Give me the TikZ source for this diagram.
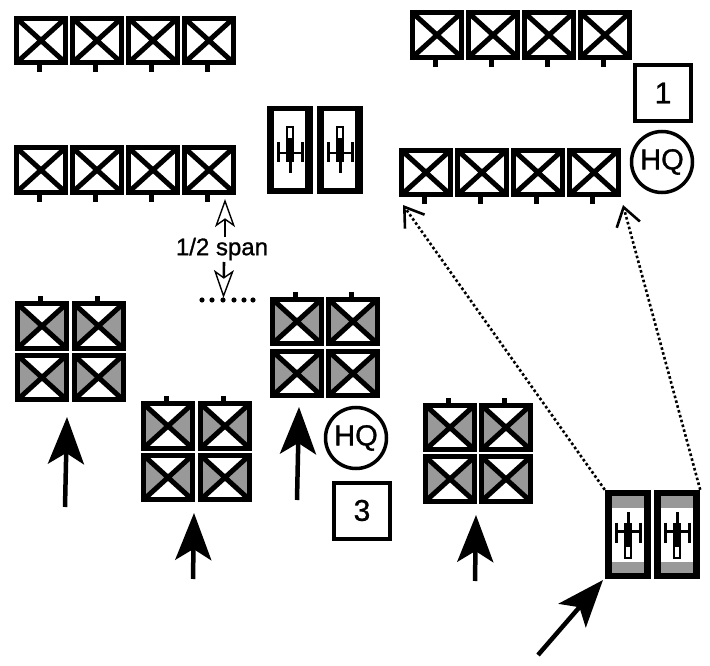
\documentclass[tikz,border=0pt]{standalone}
\usepackage{fontspec}
\setmainfont{Liberation Sans}
\newfontfamily\markfont[FakeBold=1]{Liberation Sans}
\usetikzlibrary{arrows.meta,calc}
\newcommand\gunicon[2]{% node #1, flip factor #2
  \begin{scope}[shift={(#1)},yscale=#2]
    \fill[black] (-1.5,-23) rectangle (1.5,-12);
    \fill[black] (-4,-12) rectangle (4,11);
    \draw[line width=2pt,black,fill=white] (-3,11) rectangle (3,23);
    \draw[line width=2.4pt] (-12,-3) -- (12,-3);
    \draw[line width=3pt] (-12,-12) -- (-12,8) (12,-12) -- (12,8);
  \end{scope}}
\tikzset{
  x=1pt,y=-1pt,
  tankbox/.style={draw=black,line width=5pt,inner sep=0pt,minimum width=49pt,minimum height=44.5pt,fill=white,
    path picture={
      \draw[line width=5pt] (path picture bounding box.north west) -- (path picture bounding box.south east)
        (path picture bounding box.north east) -- (path picture bounding box.south west);}},
  graytank/.style={draw=black,line width=5pt,inner sep=0pt,minimum width=49pt,minimum height=44.5pt,fill=white,
    path picture={
      \fill[black!40] (path picture bounding box.north west) -- (path picture bounding box.center) -- (path picture bounding box.south west) -- cycle
        (path picture bounding box.north east) -- (path picture bounding box.center) -- (path picture bounding box.south east) -- cycle;
      \draw[line width=5pt] (path picture bounding box.north west) -- (path picture bounding box.south east)
        (path picture bounding box.north east) -- (path picture bounding box.south west);}},
  artybox/.style={fill=black,inner sep=0pt,minimum width=46pt,minimum height=88pt,
    path picture={
      \fill[white] ($(path picture bounding box.center)+(-16,-39)$) rectangle ($(path picture bounding box.center)+(15,38)$);}},
  artygray/.style={fill=black,inner sep=0pt,minimum width=46pt,minimum height=89pt,
    path picture={
      \fill[white] ($(path picture bounding box.center)+(-16,-38)$) rectangle ($(path picture bounding box.center)+(16,38)$);
      \fill[black!40] ($(path picture bounding box.center)+(-16,-38.5)$) rectangle ($(path picture bounding box.center)+(16,-27)$);
      \fill[black!40] ($(path picture bounding box.center)+(-16,27)$) rectangle ($(path picture bounding box.center)+(16,38.5)$);}},
  hqmark/.style={draw=black,line width=3.5pt,circle,minimum size=61pt,inner sep=0pt,font=\markfont\fontsize{29}{29}\selectfont},
  unitmark/.style={draw=black,line width=4pt,minimum size=56pt,inner sep=0pt,font=\markfont\fontsize{30}{30}\selectfont},
  bigarrow/.style={line width=4.5pt,-{Stealth[length=47pt,width=36pt,inset=11pt]}},
  openarrow/.style={line width=2.6pt,-{Stealth[length=28pt,width=20pt,inset=7pt,open,fill=white,line width=1.4pt]}},
  dotarrow/.style={line width=2.6pt,dash pattern=on 2.6pt off 2.4pt,-{Straight Barb[length=18pt,width=24pt,line width=2.6pt]}},
}
\newcommand\stubdown[1]{\fill ([xshift=-4pt]#1.south) rectangle ([xshift=1pt,yshift=-7pt]#1.south);}
\newcommand\stubup[1]{\fill ([xshift=-4pt]#1.north) rectangle ([xshift=1pt,yshift=5pt]#1.north);}
\begin{document}
\begin{tikzpicture}
\useasboundingbox (0,0) rectangle (710,666);
% rows of white tanks
\foreach \i/\x in {a/41,b/97,c/153,d/209}{
  \node[tankbox] (ra\i) at (\x,40.5) {}; \stubdown{ra\i}
  \node[tankbox] (rb\i) at (\x,170) {}; \stubdown{rb\i}
}
\foreach \i/\x in {a/437,b/493,c/549,d/605}{
  \node[tankbox] (rc\i) at (\x,35) {}; \stubdown{rc\i}
}
\foreach \i/\x in {a/426,b/482,c/538,d/594}{
  \node[tankbox] (rd\i) at (\x,172.5) {}; \stubdown{rd\i}
}
% grey blocks
\foreach \nm/\xa/\xb/\ya/\yb in {ba/42/98.5/326/377.5, bb/168/225/426/477.5, bc/297/353/321.5/373.5, bd/450/506/427.5/479}{
  \node[graytank] (\nm p) at (\xa,\ya) {}; \stubup{\nm p}
  \node[graytank] (\nm q) at (\xb,\ya) {}; \stubup{\nm q}
  \node[graytank] (\nm r) at (\xa,\yb) {};
  \node[graytank] (\nm s) at (\xb,\yb) {};
}
% artillery
\node[artybox] (ga) at (290,150) {};
\node[artybox] (gb) at (340,150) {};
\node[artygray] (gc) at (628,534.5) {};
\node[artygray] (gd) at (677,534.5) {};
\gunicon{ga.center}{-1}
\gunicon{gb.center}{-1}
\gunicon{gc.center}{1}
\gunicon{gd.center}{1}
% marks
\node[unitmark] (one) at (663,93) {1};
\node[hqmark] (hqa) at (662,162) {HQ};
\node[hqmark] (hqb) at (356,438) {HQ};
\node[unitmark] (three) at (362,510.5) {3};
% label
\node[inner sep=0pt,font=\markfont\fontsize{24}{24}\selectfont] (span) at (222,249) {1/2 span};
\coordinate (upt) at (225,199);
\coordinate (dnt) at (223.5,298);
\draw[openarrow] (225,237) -- (upt);
\draw[openarrow] (224,262) -- (dnt);
\foreach \x in {202,212,223,234,244,253}{\fill (\x,300) circle (2.6pt);}
% big arrows
\coordinate (ta) at (67,417); \coordinate (sa) at (65,507);
\coordinate (tb) at (194,513); \coordinate (sb) at (193,579);
\coordinate (tc) at (299,407); \coordinate (sc) at (297,500);
\coordinate (td) at (476,515); \coordinate (sd) at (475,581);
\coordinate (te) at (603,580); \coordinate (se) at (538,655);
\draw[bigarrow] (sa) -- (ta);
\draw[bigarrow] (sb) -- (tb);
\draw[bigarrow] (sc) -- (tc);
\draw[bigarrow] (sd) -- (td);
\draw[bigarrow] (se) -- (te);
% dotted
\coordinate (pa) at (403,205);
\coordinate (pb) at (623,205);
\draw[dotarrow] (gc.north west) -- (pa);
\draw[dotarrow] (gd.north east) -- (pb);
\end{tikzpicture}
\end{document}
